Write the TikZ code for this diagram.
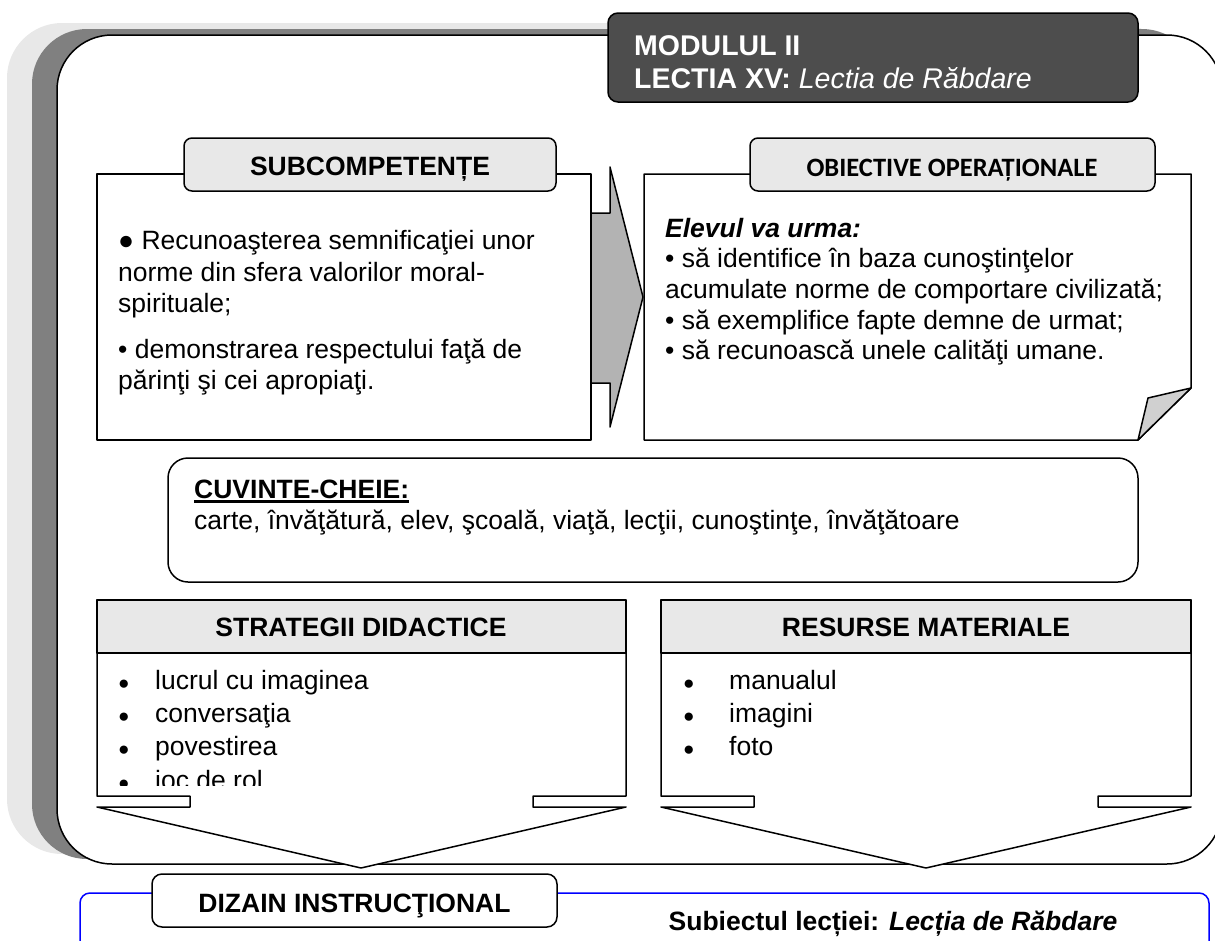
\documentclass[tikz,border=0pt]{standalone}
\usepackage{fontspec}
\setmainfont{Liberation Sans}
\newfontfamily\calibri{Carlito}
\definecolor{shadelight}{HTML}{E8E8E8}
\definecolor{shadedark}{HTML}{808080}
\definecolor{headgray}{HTML}{4D4D4D}
\definecolor{tabgray}{HTML}{E8E8E8}
\definecolor{arrowgray}{HTML}{B3B3B3}
\definecolor{foldgray}{HTML}{D0D0D0}
\def\bodyfont{\fontsize{26.5bp}{31bp}\selectfont}
\def\bigdot{{\fontsize{19bp}{19bp}\selectfont ●}}
\tikzset{
  box/.style={draw=black, line width=1.5bp, fill=white},
  tabbox/.style={draw=black, line width=1.5bp, fill=tabgray, rounded corners=8bp},
  title/.style={font=\bodyfont\bfseries, inner sep=0pt, anchor=base},
  txt/.style={font=\bodyfont, inner sep=0pt, anchor=base west},
}
\begin{document}
\begin{tikzpicture}[x=1bp, y=-1bp, line join=round]
	\useasboundingbox (0,0) rectangle (1215,941);
	\clip (0,0) rectangle (1215,941);
	% khung chinh cu umbra
	\fill[shadelight, rounded corners=55bp] (7,23) rectangle (1172,854);
	\fill[shadedark, rounded corners=55bp] (32,29) rectangle (1197,859);
	\draw[box, rounded corners=55bp] (57,35) rectangle (1222,864);
	% antet
	\draw[line width=1.5bp, fill=headgray, rounded corners=10bp] (608,13) rectangle (1138,102);
	\node[txt, text=white, font=\fontsize{28.5bp}{33bp}\selectfont\bfseries] (modul) at (634,55) {MODULUL II};
	\node[txt, text=white, font=\fontsize{28.5bp}{33bp}\selectfont\bfseries] (lectia) at (634,88) {LECTIA XV: \mdseries\itshape Lectia de Răbdare};
	% sageata
	\draw[line width=1.5bp, fill=arrowgray] (585,213) -- (610,213) -- (610,167) -- (643,297) -- (610,427) -- (610,383) -- (585,383) -- cycle;
	% subcompetente
	\draw[box] (97,174) rectangle (591,440);
	\draw[tabbox] (184,138) rectangle (556,191);
	\node[title] (subcomp) at (370,175) {SUBCOMPETENȚE};
	\node[txt] (sc1) at (118,249) {● Recunoaşterea semnificaţiei unor};
	\node[txt] (sc2) at (118,281) {norme din sfera valorilor moral-};
	\node[txt] (sc3) at (118,312) {spirituale;};
	\node[txt] (sc4) at (118,358) {• demonstrarea respectului faţă de};
	\node[txt] (sc5) at (118,389) {părinţi şi cei apropiaţi.};
	% obiective
	\draw[box] (644,174) -- (1191,174) -- (1191,388) -- (1138,440) -- (644,440) -- cycle;
	\draw[line width=1.5bp, fill=foldgray] (1191,388) -- (1148,398) -- (1138,440) -- cycle;
	\draw[tabbox] (750,138) rectangle (1155,191);
	\node[title, font=\fontsize{26.5bp}{31bp}\calibri\bfseries] (obiect) at (952,176) {OBIECTIVE OPERAȚIONALE};
	\node[txt, font=\bodyfont\bfseries\itshape] (ob0) at (665,237) {Elevul va urma:};
	\node[txt] (ob1) at (665,267) {• să identifice în baza cunoştinţelor};
	\node[txt] (ob2) at (665,298) {acumulate norme de comportare civilizată;};
	\node[txt] (ob3) at (665,329) {• să exemplifice fapte demne de urmat;};
	\node[txt] (ob4) at (665,359) {• să recunoască unele calităţi umane.};
	% cuvinte-cheie
	\draw[box, rounded corners=20bp] (168,458) rectangle (1138,582);
	\node[txt, font=\bodyfont\bfseries] (cuv) at (194,498) {CUVINTE-CHEIE:};
	\draw[line width=2.2bp] ([yshift=-3.5bp]cuv.base west) -- ([yshift=-3.5bp]cuv.base east);
	\node[txt] (cuvlist) at (194,529) {carte, învăţătură, elev, şcoală, viaţă, lecţii, cunoştinţe, învăţătoare};
	% strategii didactice
	\draw[box] (97,600) -- (626,600) -- (626,796) -- (533,796) -- (533,807) -- (626,807) -- (361,868)
		-- (97,807) -- (190,807) -- (190,796) -- (97,796) -- cycle;
	\draw[box, fill=tabgray] (97,600) rectangle (626,653);
	\node[title] (strat) at (361,636) {STRATEGII DIDACTICE};
	\begin{scope}
		\clip (97,653) rectangle (626,785);
		\foreach \t [count=\i from 0] in {lucrul cu imaginea, conversaţia, povestirea, joc de rol} {
			\node[txt] (sb\i) at (118,689.5+33.2*\i) {\bigdot};
			\node[txt] (st\i) at (155,689.5+33.2*\i) {\t};
		}
	\end{scope}
	% resurse materiale
	\draw[box] (661,600) -- (1191,600) -- (1191,796) -- (1098,796) -- (1098,807) -- (1191,807) -- (926,868)
		-- (661,807) -- (754,807) -- (754,796) -- (661,796) -- cycle;
	\draw[box, fill=tabgray] (661,600) rectangle (1191,653);
	\node[title] (resurse) at (926,636) {RESURSE MATERIALE};
	\foreach \t [count=\i from 0] in {manualul, imagini, foto} {
		\node[txt] (rb\i) at (683,689.5+33.2*\i) {\bigdot};
		\node[txt] (rs\i) at (729,689.5+33.2*\i) {\t};
	}
	% dizain instructional
	\draw[blue, line width=1.5bp, rounded corners=10bp] (80,893) rectangle (1209,990);
	\draw[box, rounded corners=10bp] (152,874) rectangle (557,927);
	\node[title] (dizain) at (354.5,912) {DIZAIN INSTRUCŢIONAL};
	\node[title] (subiect) at (893,930) {Subiectul lecției: \itshape Lecția de Răbdare};
\end{tikzpicture}
\end{document}
